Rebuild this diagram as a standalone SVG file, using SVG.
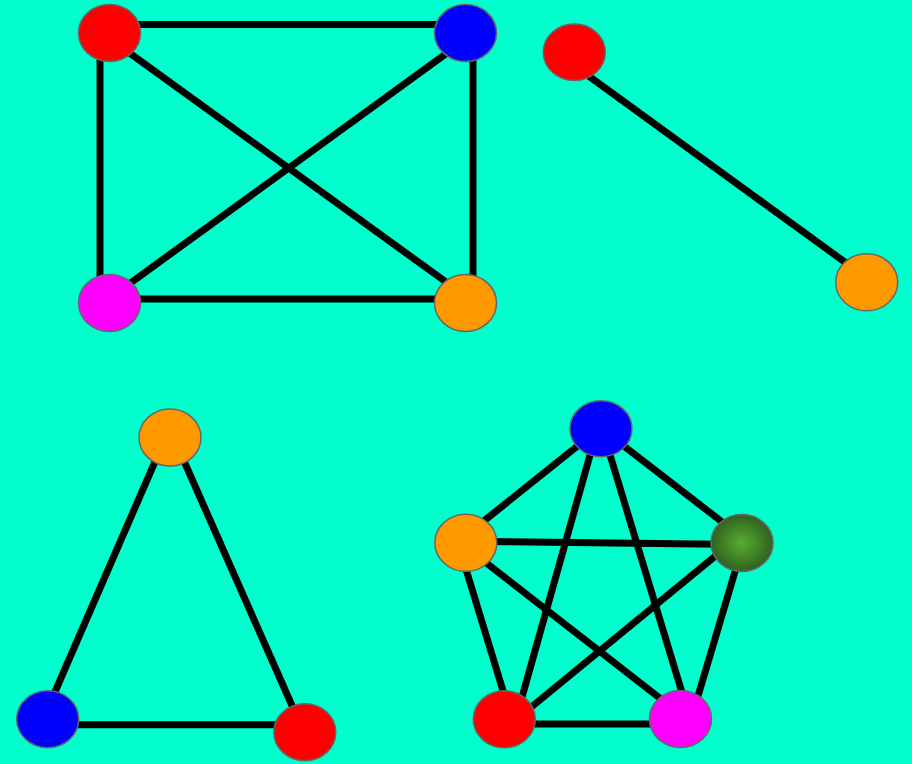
<svg xmlns="http://www.w3.org/2000/svg" width="912" height="764" viewBox="0 0 912 764">
<style>
.e{stroke:#000;stroke-width:7;fill:none}
.n{stroke:#666;stroke-width:1.5}
.red{fill:#ff0000}.blue{fill:#0000ff}.mag{fill:#ff00ff}.org{fill:#ff9900}.grn{fill:url(#g)}
</style>
<defs>
<radialGradient id="g" cx="0.5" cy="0.5" r="0.5">
<stop offset="0" stop-color="#58ad2f"/>
<stop offset="1" stop-color="#2e6220"/>
</radialGradient>
</defs>
<rect width="912" height="764" fill="#00ffcc"/>
<g id="connectors">
<line class="e" x1="100" y1="24.5" x2="473" y2="24.5"/>
<line class="e" x1="100" y1="24.5" x2="100" y2="299"/>
<line class="e" x1="473" y1="24.5" x2="473" y2="299"/>
<line class="e" x1="100" y1="299" x2="473" y2="299"/>
<line class="e" x1="100" y1="31.6" x2="473" y2="301.5"/>
<line class="e" x1="473" y1="34.2" x2="100" y2="305.1"/>
<line class="e" x1="574" y1="65.4" x2="866" y2="277.4"/>
<line class="e" x1="164.4" y1="440" x2="44.9" y2="715"/>
<line class="e" x1="174.7" y1="440" x2="301.9" y2="728"/>
<line class="e" x1="48" y1="724.7" x2="305" y2="724.7"/>
<line class="e" x1="595" y1="432" x2="466.7" y2="534.7"/>
<line class="e" x1="607.7" y1="433.6" x2="745.5" y2="540"/>
<line class="e" x1="595.5" y1="435.5" x2="516.2" y2="717.8"/>
<line class="e" x1="604.3" y1="436" x2="687.4" y2="710.6"/>
<line class="e" x1="470" y1="541.4" x2="740" y2="544.6"/>
<line class="e" x1="459.4" y1="547.7" x2="510.6" y2="715.7"/>
<line class="e" x1="469.4" y1="549.8" x2="677.3" y2="711.8"/>
<line class="e" x1="735.2" y1="539.8" x2="513.2" y2="721.9"/>
<line class="e" x1="742.3" y1="547" x2="692.8" y2="713.5"/>
<line class="e" x1="504" y1="724" x2="680" y2="724"/>
</g>
<g id="n1"><ellipse class="n red" cx="109.5" cy="33" rx="31" ry="28.5"/></g>
<g id="n2"><ellipse class="n blue" cx="465.5" cy="33" rx="31" ry="28.5"/></g>
<g id="n3"><ellipse class="n mag" cx="109.5" cy="303" rx="31" ry="28.5"/></g>
<g id="n4"><ellipse class="n org" cx="465.5" cy="303" rx="31" ry="28.5"/></g>
<g id="n5"><ellipse class="n red" cx="574.3" cy="52.3" rx="31" ry="28.3"/></g>
<g id="n6"><ellipse class="n org" cx="866.7" cy="282.3" rx="31" ry="28.5"/></g>
<g id="n7"><ellipse class="n org" cx="170" cy="437.5" rx="31" ry="28.5"/></g>
<g id="n8"><ellipse class="n blue" cx="47.7" cy="719.2" rx="31" ry="28.5"/></g>
<g id="n9"><ellipse class="n red" cx="304.8" cy="732.2" rx="31" ry="28.5"/></g>
<g id="n10"><ellipse class="n blue" cx="601" cy="428.7" rx="31" ry="28"/></g>
<g id="n11"><ellipse class="n org" cx="465.8" cy="542.8" rx="31" ry="28.5"/></g>
<g id="n12"><ellipse class="n grn" cx="742" cy="543" rx="31" ry="28.5"/></g>
<g id="n13"><ellipse class="n red" cx="504.3" cy="719.3" rx="31" ry="28.5"/></g>
<g id="n14"><ellipse class="n mag" cx="680.5" cy="719" rx="31" ry="28.5"/></g>
</svg>
